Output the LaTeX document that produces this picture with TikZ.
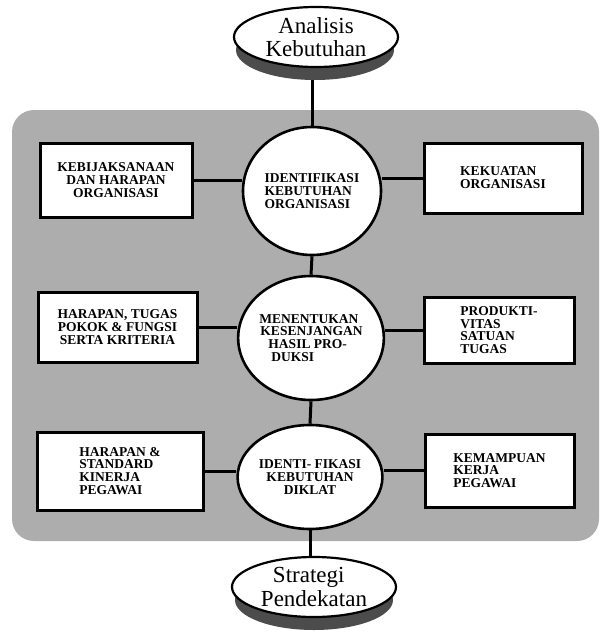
\documentclass[tikz,border=0pt]{standalone}
\usepackage{fontspec}
\setmainfont{Liberation Serif}
\usetikzlibrary{shapes.geometric}
\definecolor{panelgray}{gray}{0.68}
\definecolor{shadowgray}{gray}{0.30}
\tikzset{
  boxnode/.style={draw=black, line width=3pt, fill=white, inner sep=0pt,
    font=\bfseries\fontsize{13.5}{12.8}\selectfont},
  circnode/.style={ellipse, draw=black, line width=2.6pt, fill=white, inner sep=0pt,
    font=\bfseries\fontsize{13.5}{12.8}\selectfont},
  termnode/.style={ellipse, draw=black, line width=2.2pt, fill=white, inner sep=0pt,
    minimum width=164pt, minimum height=60pt,
    font=\fontsize{23}{23.5}\selectfont, align=center},
  termshadow/.style={ellipse, fill=shadowgray, inner sep=0pt,
    minimum width=158pt, minimum height=60pt},
  link/.style={line width=3pt}
}
\begin{document}
\begin{tikzpicture}[x=1pt,y=-1pt]
\useasboundingbox (0,0) rectangle (601,637);
% panel
\fill[panelgray, rounded corners=22pt] (12,110) rectangle (599,541);
% top terminal
\node[termshadow] (tsh) at (315,50) {};
\node[termnode] (top) at (316,37) {Analisis\\Kebutuhan};
% circles
\node[circnode, minimum width=138pt, minimum height=128pt, align=left] (c1) at (312,191)
  {IDENTIFIKASI\\KEBUTUHAN\\ORGANISASI};
\node[circnode, minimum width=132pt, minimum height=124pt, align=left] (c2) at (311,338)
  {MENENTUKAN\\\hspace*{1pt}KESENJANGAN\\\hspace*{9pt}HASIL PRO-\\\hspace*{12pt}DUKSI};
\node[circnode, minimum width=132pt, minimum height=104pt, align=center] (c3) at (310,477)
  {IDENTI- FIKASI\\KEBUTUHAN\\DIKLAT};
% bottom terminal
\node[termshadow] (bsh) at (314,600) {};
\node[termnode, align=left] (bot) at (314,587) {\hspace*{12pt}Strategi\\Pendekatan};
% boxes
\node[boxnode, minimum width=152pt, minimum height=74pt, align=center] (b1l) at (116,180)
  {KEBIJAKSANAAN\\DAN HARAPAN\\ORGANISASI};
\node[boxnode, minimum width=158pt, minimum height=70pt, align=left] (b1r) at (503,178)
  {KEKUATAN\\ORGANISASI};
\node[boxnode, minimum width=159pt, minimum height=70pt, align=center] (b2l) at (117.5,327)
  {HARAPAN, TUGAS\\POKOK \& FUNGSI\\SERTA KRITERIA};
\node[boxnode, minimum width=150pt, minimum height=66pt, align=left] (b2r) at (499,330)
  {PRODUKTI-\\VITAS\\SATUAN\\TUGAS};
\node[boxnode, minimum width=166pt, minimum height=78pt, align=left] (b3l) at (120,471)
  {HARAPAN \&\\STANDARD\\KINERJA\\PEGAWAI};
\node[boxnode, minimum width=149pt, minimum height=73pt, align=left] (b3r) at (499.5,470.5)
  {KEMAMPUAN\\KERJA\\PEGAWAI};
% vertical connectors
\draw[link] (c1.north) -- (c1.north |- tsh.south);
\draw[link] (c1.south) -- (c2.north);
\draw[link] (c2.south) -- (c3.north);
\draw[link] (c3.south) -- (c3.south |- bot.north);
% horizontal connectors
\draw[link] (b1l.east) -- (b1l.east -| c1.west);
\draw[link] (b1r.west) -- (b1r.west -| c1.east);
\draw[link] (b2l.east) -- (b2l.east -| c2.west);
\draw[link] (b2r.west) -- (b2r.west -| c2.east);
\draw[link] (b3l.east) -- (b3l.east -| c3.west);
\draw[link] (b3r.west) -- (b3r.west -| c3.east);
\end{tikzpicture}
\end{document}
